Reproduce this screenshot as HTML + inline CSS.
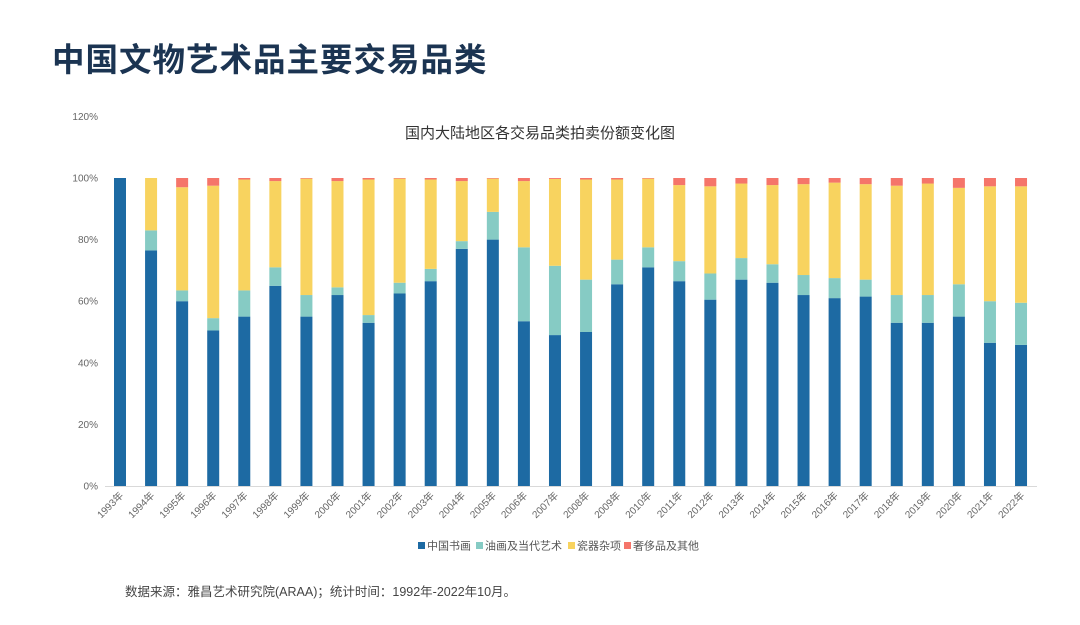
<!DOCTYPE html>
<html><head><meta charset="utf-8">
<style>
body{margin:0;width:1080px;height:625px;background:#fff;overflow:hidden;font-family:"Liberation Sans","Noto Sans CJK SC",sans-serif;}
#title{position:absolute;left:52px;top:34px;font-size:32.5px;font-weight:bold;color:#1b3452;letter-spacing:1px;font-family:"Liberation Sans","Noto Sans CJK SC",sans-serif;}
#source{position:absolute;left:125px;top:581px;font-size:12.5px;color:#444;}
svg{position:absolute;left:0;top:0;}
</style></head><body>
<div id="title">中国文物艺术品主要交易品类</div>
<svg id="chart" width="1080" height="625"></svg>
<div id="source">数据来源：雅昌艺术研究院(ARAA)；统计时间：1992年-2022年10月。</div>
<script>
const years=["1993年","1994年","1995年","1996年","1997年","1998年","1999年","2000年","2001年","2002年","2003年","2004年","2005年","2006年","2007年","2008年","2009年","2010年","2011年","2012年","2013年","2014年","2015年","2016年","2017年","2018年","2019年","2020年","2021年","2022年"];
const painting=[100,76.5,60,50.5,55,65,55,62,53,62.5,66.5,77,80,53.5,49,50,65.5,71,66.5,60.5,67,66,62,61,61.5,53,53,55,46.5,45.8];
const oilContemporary=[0,6.5,3.5,4,8.5,6,7,2.5,2.5,3.5,4,2.5,9,24,22.5,17,8,6.5,6.5,8.5,7,6,6.5,6.5,5.5,9,9,10.5,13.5,13.7];
const ceramics=[0,17,33.5,43,36,28,37.8,34.5,44,33.8,29,19.5,10.8,21.5,28.2,32.5,26,22.3,24.7,28.3,24.2,25.7,29.5,31,31,35.5,36.2,31.3,37.3,37.8];
const luxury=[0,0,3,2.5,0.5,1,0.2,1,0.5,0.2,0.5,1,0.2,1,0.3,0.5,0.5,0.2,2.3,2.7,1.8,2.3,2,1.5,2,2.5,1.8,3.2,2.7,2.7];
const yTicks=[0,20,40,60,80,100,120];
const seriesNames=["中国书画","油画及当代艺术","瓷器杂项","奢侈品及其他"];
const colors=["#1d6aa3","#86cbc4","#f8d35f","#f5756a"];
const NS="http://www.w3.org/2000/svg";
const svg=document.getElementById('chart');
const y0=486,pxPer=3.08,x0=120,step=31.07,bw=12;
const yS=v=>y0-v*pxPer, xS=i=>x0+i*step;
function mk(t,a){const e=document.createElementNS(NS,t);for(const k in a)e.setAttribute(k,a[k]);svg.appendChild(e);return e;}
let ct=mk('text',{x:540,y:138,'text-anchor':'middle','font-size':15,fill:'#333'});ct.textContent='国内大陆地区各交易品类拍卖份额变化图';


yTicks.forEach(v=>{const t=mk('text',{x:98,y:yS(v)+3.5,'text-anchor':'end','font-size':10,fill:'#666'});t.textContent=v+'%';

});
const ax=mk('line',{x1:105,x2:1037,y1:y0+0.5,y2:y0+0.5,stroke:'#d9d9d9'});


const series=[painting,oilContemporary,ceramics,luxury];
years.forEach((yr,i)=>{let acc=0;series.forEach((s,k)=>{const v=s[i];if(v>0){const r=mk('rect',{x:xS(i)-bw/2,y:yS(acc+v),width:bw,height:v*pxPer,fill:colors[k]});

}acc+=v;});
const t=mk('text',{x:0,y:0,'text-anchor':'end','font-size':10,fill:'#666',transform:`translate(${xS(i)+4},${y0+10}) rotate(-45)`});t.textContent=yr;

});
const lx=[418,476,568,624];
seriesNames.forEach((n,k)=>{const r=mk('rect',{x:lx[k],y:542,width:7,height:7,fill:colors[k]});


const t=mk('text',{x:lx[k]+9,y:549.5,'font-size':11,fill:'#555'});t.textContent=n;

});
</script>
</body></html>
